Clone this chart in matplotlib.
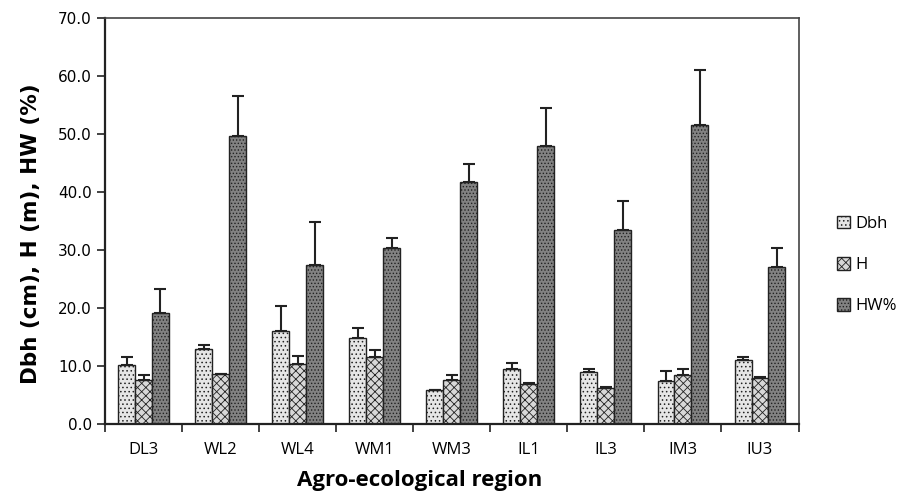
import matplotlib
matplotlib.use("Agg")
import matplotlib.pyplot as plt
import numpy as np

regions = ["DL3", "WL2", "WL4", "WM1", "WM3", "IL1", "IL3", "IM3", "IU3"]
dbh = [10.2, 13.0, 16.0, 14.8, 5.8, 9.5, 8.9, 7.4, 11.0]
dbh_err = [1.3, 0.7, 4.3, 1.8, 0.1, 1.0, 0.6, 1.8, 0.6]
h = [7.6, 8.6, 10.3, 11.5, 7.6, 6.9, 6.2, 8.5, 8.0]
h_err = [0.9, 0.1, 1.4, 1.2, 0.9, 0.2, 0.1, 1.0, 0.1]
hw = [19.1, 49.7, 27.5, 30.3, 41.8, 48.0, 33.4, 51.6, 27.0]
hw_err = [4.2, 6.9, 7.4, 1.8, 3.0, 6.4, 5.1, 9.4, 3.4]
series_names = ["Dbh", "H", "HW%"]
yticks = [0, 10, 20, 30, 40, 50, 60, 70]

plt.rcParams['hatch.linewidth'] = 0.6
plt.rcParams['hatch.color'] = '#333333'

fig = plt.figure(figsize=(9.17, 4.95), dpi=100)
ax = fig.add_axes([0.1145, 0.1434, 0.7563, 0.8202])

x = np.arange(len(regions))
w = 0.22
styles = [
    dict(facecolor='#e6e6e6', hatch='....'),
    dict(facecolor='#d8d8d8', hatch='xxxx'),
    dict(facecolor='#828282', hatch='.....'),
]
data = [(dbh, dbh_err), (h, h_err), (hw, hw_err)]
handles = []
for i, ((vals, errs), st, name) in enumerate(zip(data, styles, series_names)):
    bars = ax.bar(x + (i - 1) * w, vals, w, facecolor=st['facecolor'], hatch=st['hatch'],
                  edgecolor='#222222', linewidth=1.0, label=name, zorder=2)
    ax.errorbar(x + (i - 1) * w, vals, yerr=[np.zeros(len(errs)), errs], fmt='none',
                ecolor='#222222', elinewidth=1.5, capsize=4, capthick=1.5, zorder=3)
    handles.append(bars)

ax.set_xlim(-0.5, len(regions) - 0.5)
ax.set_ylim(0, 70)
ax.set_yticks(yticks)
ax.set_yticklabels([f"{v:.1f}" for v in yticks], fontsize=11, family='DejaVu Sans')
ax.set_xticks(x)
ax.set_xticklabels(regions, fontsize=12, family='Open Sans')
ax.set_xticks(np.arange(-0.5, len(regions)), minor=True)
ax.tick_params(axis='x', which='major', length=0, pad=13)
ax.tick_params(axis='x', which='minor', length=6, width=1.2, direction='out', color='#222222')
ax.tick_params(axis='y', length=6, width=1.2, direction='out', color='#222222')

for s in ['left', 'bottom']:
    ax.spines[s].set_linewidth(1.6)
    ax.spines[s].set_color('#222222')
for s in ['top', 'right']:
    ax.spines[s].set_linewidth(1.2)
    ax.spines[s].set_color('#444444')

ax.set_ylabel("Dbh (cm), H (m), HW (%)", fontsize=15.5, fontweight='bold', family='DejaVu Sans')
ax.yaxis.set_label_coords(-0.092, 0.468)
ax.set_xlabel("Agro-ecological region", fontsize=16, fontweight='bold', family='Open Sans')
ax.xaxis.set_label_coords(0.454, -0.113)

leg = ax.legend(handles=handles, labels=series_names, loc='center left', bbox_to_anchor=(1.0335, 0.392),
                frameon=False, handlelength=0.8, handleheight=0.8, handletextpad=0.3,
                labelspacing=1.5, prop={'family': 'Open Sans', 'size': 12})

fig.savefig("out.png", dpi=100)
